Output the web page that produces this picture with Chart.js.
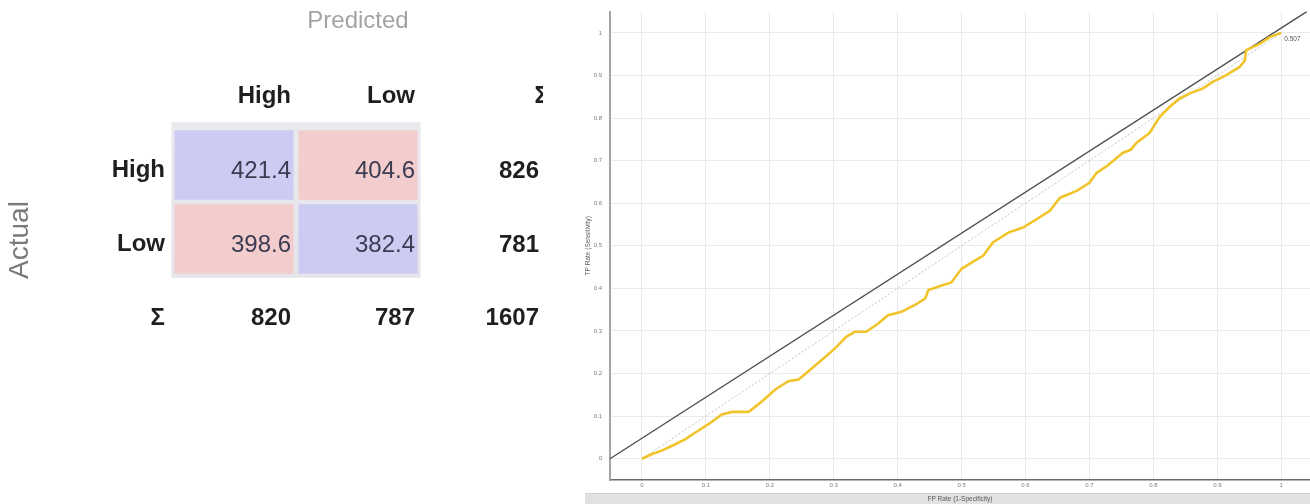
<!DOCTYPE html>
<html>
<head>
<meta charset="utf-8">
<title>Confusion matrix and ROC curve</title>
<script src="https://cdn.jsdelivr.net/npm/chart.js@4.4.1/dist/chart.umd.min.js"></script>
<style>
  html, body { margin: 0; padding: 0; background: #ffffff; }
  #page { position: relative; width: 1310px; height: 504px; overflow: hidden; background: #ffffff; }
  #matrixBox { position: absolute; left: 0; top: 0; width: 543px; height: 504px; overflow: hidden; }
  #rocBox { position: absolute; left: 560px; top: 0; width: 750px; height: 504px; }
  #footerBand { position: absolute; left: 585px; top: 493px; width: 725px; height: 11px; background: #e1e1e1; border-top: 1px solid #d2d2d2; }
  canvas { display: block; }
</style>
</head>
<body>
<div id="page">
  <div id="matrixBox"><canvas id="matrix" width="560" height="504"></canvas></div>
  <div id="footerBand"></div>
  <div id="rocBox"><canvas id="roc" width="750" height="504"></canvas></div>
</div>
<script>
// ---------- confusion matrix ----------
const predictedLabels = ['High', 'Low'];
const actualLabels = ['High', 'Low'];
const actualHighCounts = [421.4, 404.6];
const actualLowCounts = [398.6, 382.4];
const rowTotals = [826, 781];
const columnTotals = [820, 787];
const grandTotal = 1607;
const sumSymbol = 'Σ';

// ---------- ROC curve ----------
const fpRate = [0, 0.016, 0.031, 0.052, 0.068, 0.083, 0.104, 0.125, 0.141, 0.167, 0.188, 0.208,
  0.229, 0.245, 0.26, 0.281, 0.302, 0.32, 0.333, 0.351, 0.37, 0.385, 0.406, 0.427, 0.443, 0.448,
  0.469, 0.484, 0.5, 0.516, 0.534, 0.549, 0.573, 0.596, 0.617, 0.638, 0.654, 0.68, 0.7, 0.711,
  0.727, 0.752, 0.765, 0.773, 0.794, 0.81, 0.826, 0.841, 0.857, 0.877, 0.893, 0.914, 0.935,
  0.943, 0.945, 0.966, 0.982, 1];
const tpRate = [0, 0.011, 0.019, 0.034, 0.046, 0.061, 0.081, 0.104, 0.11, 0.11, 0.135, 0.162,
  0.182, 0.186, 0.205, 0.232, 0.259, 0.287, 0.298, 0.298, 0.318, 0.337, 0.345, 0.361, 0.376, 0.396,
  0.407, 0.414, 0.446, 0.461, 0.477, 0.508, 0.531, 0.543, 0.562, 0.582, 0.613, 0.629, 0.648, 0.671,
  0.687, 0.718, 0.726, 0.741, 0.765, 0.803, 0.827, 0.846, 0.858, 0.869, 0.885, 0.901, 0.92,
  0.935, 0.959, 0.974, 0.99, 1];
const isoLineFp = [-0.05, 1.04];
const isoLineTp = [0, 1.05];
const chanceFp = [0, 1];
const chanceTp = [0, 1];
const rateTicks = [0, 0.1, 0.2, 0.3, 0.4, 0.5, 0.6, 0.7, 0.8, 0.9, 1];
const areaUnderCurve = '0.507';

const FONT = "'Liberation Sans', Arial, sans-serif";
const CORRECT_FILL = 'rgb(204, 204, 243)';
const WRONG_FILL = 'rgb(243, 205, 205)';

// row levels on the vertical scale: header 3, High 2, Low 1, totals 0
const matrixRows = [actualHighCounts, actualLowCounts];
const levelOfRow = r => 2 - r;
const CELL_HALF = 0.47;

const matrixText = {
  id: 'matrixText',
  beforeDatasetsDraw(chart) {
    const ctx = chart.ctx;
    let l = Infinity, r = -Infinity, t = Infinity, b = -Infinity;
    chart.data.datasets.forEach((ds, i) => {
      chart.getDatasetMeta(i).data.forEach(bar => {
        const p = bar.getProps(['x', 'y', 'base', 'width']);
        l = Math.min(l, p.x - p.width / 2); r = Math.max(r, p.x + p.width / 2);
        t = Math.min(t, p.y, p.base); b = Math.max(b, p.y, p.base);
      });
    });
    ctx.save();
    const g = ctx.createLinearGradient(0, t - 8, 0, b + 4);
    g.addColorStop(0, '#e9e9ee');
    g.addColorStop(1, '#e4e4ea');
    ctx.fillStyle = g;
    ctx.fillRect(l - 3, t - 8, (r - l) + 6, (b - t) + 12);
    ctx.restore();
  },
  afterDatasetsDraw(chart) {
    const ctx = chart.ctx;
    const xs = chart.scales.x, ys = chart.scales.y;
    const area = chart.chartArea;
    const colRight = c => xs.getPixelForValue(c) + 57;
    const base = lvl => ys.getPixelForValue(lvl) + 12;
    ctx.save();
    ctx.textBaseline = 'alphabetic';

    // titles
    ctx.fillStyle = '#a3a3a3';
    ctx.font = '24px ' + FONT;
    ctx.textAlign = 'center';
    ctx.fillText('Predicted', (area.left + area.right) / 2, area.top - 26);
    ctx.save();
    ctx.fillStyle = '#7a7a7a';
    ctx.font = '28px ' + FONT;
    ctx.translate(28, 240);
    ctx.rotate(-Math.PI / 2);
    ctx.fillText('Actual', 0, 0);
    ctx.restore();

    // column headers
    ctx.fillStyle = '#1f1f1f';
    ctx.font = 'bold 24px ' + FONT;
    ctx.textAlign = 'right';
    predictedLabels.forEach((lab, c) => ctx.fillText(lab, colRight(c), base(3)));
    ctx.fillText(sumSymbol, colRight(2) + 10, base(3));

    // row headers
    actualLabels.forEach((lab, r) => ctx.fillText(lab, area.left - 7, base(levelOfRow(r))));
    ctx.fillText(sumSymbol, area.left - 7, base(0));

    // cell values
    ctx.font = '24px ' + FONT;
    ctx.fillStyle = '#3b3b52';
    matrixRows.forEach((counts, r) => {
      counts.forEach((v, c) => ctx.fillText(v.toFixed(1), colRight(c), base(levelOfRow(r)) + 1));
    });

    // totals
    ctx.font = 'bold 24px ' + FONT;
    ctx.fillStyle = '#1f1f1f';
    rowTotals.forEach((v, r) => ctx.fillText(String(v), colRight(2), base(levelOfRow(r)) + 1));
    columnTotals.forEach((v, c) => ctx.fillText(String(v), colRight(c), base(0)));
    ctx.fillText(String(grandTotal), colRight(2), base(0));
    ctx.restore();
  }
};

new Chart(document.getElementById('matrix'), {
  type: 'bar',
  data: {
    labels: [...predictedLabels, sumSymbol],
    datasets: matrixRows.map((counts, r) => ({
      label: actualLabels[r],
      data: counts.map(() => [levelOfRow(r) - CELL_HALF, levelOfRow(r) + CELL_HALF]),
      backgroundColor: counts.map((_, c) => (c === r ? CORRECT_FILL : WRONG_FILL)),
      borderWidth: 0,
      grouped: false,
      barPercentage: 0.96,
      categoryPercentage: 1
    }))
  },
  options: {
    responsive: false,
    animation: false,
    layout: { padding: { left: 172, right: 16, top: 54, bottom: 154 } },
    plugins: { legend: { display: false }, tooltip: { enabled: false } },
    scales: {
      x: { type: 'category', display: false, offset: true },
      y: { type: 'linear', display: false, min: -0.5, max: 3.5 }
    }
  },
  plugins: [matrixText]
});

// ---------- ROC chart ----------
const aucLabel = {
  id: 'aucLabel',
  afterDatasetsDraw(chart) {
    const meta = chart.getDatasetMeta(0);
    const last = meta.data[meta.data.length - 1];
    const ctx = chart.ctx;
    ctx.save();
    ctx.font = '6.5px ' + FONT;
    ctx.fillStyle = '#555555';
    ctx.textAlign = 'left';
    ctx.textBaseline = 'middle';
    ctx.fillText(areaUnderCurve, last.x + 3, last.y + 6);
    ctx.restore();
  }
};

const toPoints = (xs, ys) => xs.map((x, i) => ({ x, y: ys[i] }));
const tickText = v => String(Number(v.toFixed(2)));
const useRateTicks = axis => { axis.ticks = rateTicks.map(v => ({ value: v })); };

new Chart(document.getElementById('roc'), {
  type: 'scatter',
  data: {
    datasets: [
      {
        label: 'ROC',
        data: toPoints(fpRate, tpRate),
        showLine: true,
        borderColor: 'rgb(242, 196, 44)',
        borderWidth: 2.6,
        pointRadius: 0,
        tension: 0
      },
      {
        label: 'Iso-performance',
        data: toPoints(isoLineFp, isoLineTp),
        showLine: true,
        borderColor: '#4f4f4f',
        borderWidth: 1.4,
        pointRadius: 0
      },
      {
        label: 'Chance',
        data: toPoints(chanceFp, chanceTp),
        showLine: true,
        borderColor: '#b4b4b4',
        borderWidth: 0.8,
        borderDash: [2, 2],
        pointRadius: 0
      }
    ]
  },
  options: {
    responsive: false,
    animation: false,
    layout: { padding: { top: 8, right: 0, bottom: 0, left: 0 } },
    plugins: { legend: { display: false }, tooltip: { enabled: false } },
    scales: {
      x: {
        type: 'linear',
        min: -0.05,
        max: 1.045,
        afterBuildTicks: useRateTicks,
        afterFit: a => { a.height = 24; },
        grid: { color: '#ebebeb', lineWidth: 1, drawTicks: false },
        border: { color: '#6a6a6a', width: 1.5 },
        ticks: { padding: 2, color: '#7a7a7a', font: { size: 6, family: FONT }, maxRotation: 0, autoSkip: false, callback: tickText },
        title: { display: true, text: 'FP Rate (1-Specificity)', color: '#5a5a5a', font: { size: 6.5, family: FONT }, padding: { top: 0, bottom: 1 } }
      },
      y: {
        type: 'linear',
        min: -0.05,
        max: 1.05,
        afterBuildTicks: useRateTicks,
        afterFit: a => { a.width = 50; },
        grid: { color: '#ebebeb', lineWidth: 1, drawTicks: false },
        border: { color: '#a4a4a4', width: 2 },
        ticks: { padding: 8, color: '#7a7a7a', font: { size: 6, family: FONT }, autoSkip: false, callback: tickText },
        title: { display: true, text: 'TP Rate (Sensitivity)', color: '#5a5a5a', font: { size: 6.5, family: FONT }, padding: { top: 24, bottom: 0 } }
      }
    }
  },
  plugins: [aucLabel]
});
</script>
</body>
</html>
